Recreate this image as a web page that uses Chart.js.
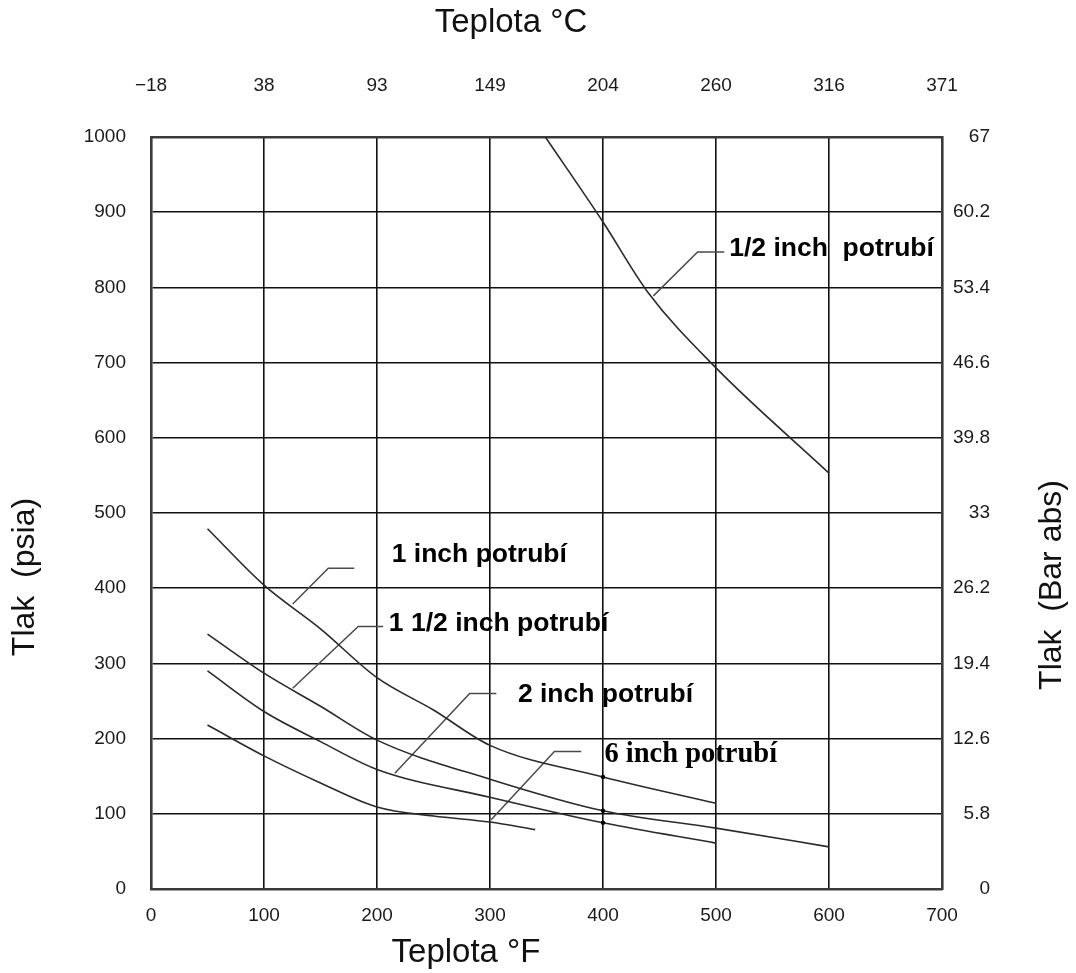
<!DOCTYPE html>
<html>
<head>
<meta charset="utf-8">
<script src="https://cdn.jsdelivr.net/npm/chart.js@4.4.1/dist/chart.umd.min.js"></script>
<style>
html,body{margin:0;padding:0;background:#fff;}
#wrap{width:1076px;height:973px;position:relative;}
canvas{display:block;}
</style>
</head>
<body>
<div id="wrap"><canvas id="c" width="1076" height="973"></canvas></div>
<script>
// ---- tick labels ----
const tempCLabels = ["\u221218", "38", "93", "149", "204", "260", "316", "371"];
const barLabels = ["0", "5.8", "12.6", "19.4", "26.2", "33", "39.8", "46.6", "53.4", "60.2", "67"];

// ---- series (x: °F, y: psia) ----
const halfInchX = [349, 400, 440, 500, 600];
const halfInchY = [1000, 887, 793, 693, 553];
const oneInchX = [50, 100, 150, 200, 250, 300, 400, 500];
const oneInchY = [479, 404, 346, 281, 238, 191, 149, 114];
const oneHalfInchX = [50, 100, 150, 200, 300, 400, 500, 600];
const oneHalfInchY = [339, 287, 243, 198, 146, 104, 81, 56];
const twoInchX = [50, 100, 150, 200, 300, 400, 500];
const twoInchY = [290, 236, 196, 159, 122, 88, 61];
const sixInchX = [50, 100, 150, 200, 250, 300, 340];
const sixInchY = [218, 177, 141, 109, 97, 89, 79];

// ---- leader lines (x: °F, y: psia) ----
const leadHalfX = [444.6, 483.7, 507.3];
const leadHalfY = [788.7, 847, 847];
const leadOneX = [125.4, 156.9, 179.9];
const leadOneY = [379, 426.5, 426.5];
const leadOneHalfX = [125.4, 183.4, 205.5];
const leadOneHalfY = [267, 349, 349];
const leadTwoX = [215.8, 282, 305.6];
const leadTwoY = [154, 260, 260];
const leadSixX = [301, 357, 380.7];
const leadSixY = [92, 183, 183];

// ---- curve labels ----
const labelTexts = ["1/2 inch  potrubí", "1 inch potrubí", "1 1/2 inch potrubí", "2 inch potrubí", "6 inch potrubí"];
const labelX = [511.7, 213, 210.5, 324.7, 401.3];
const labelY = [851.7, 444, 353.4, 258, 178.5];

function pts(xs, ys) { return xs.map((x, i) => ({x: x, y: ys[i]})); }

const CURVE = '#2a2a2a';
const LEAD = '#4a4a4a';
const curveDs = (d) => ({
  data: d, borderColor: CURVE, borderWidth: 1.6, fill: false,
  cubicInterpolationMode: 'monotone',
  pointRadius: (c) => (c.raw && c.raw.x === 400 && c.datasetIndex > 0 && c.datasetIndex < 4) ? 2.2 : 0,
  pointBackgroundColor: '#000', pointBorderWidth: 0
});
const leadDs = (d) => ({
  data: d, borderColor: LEAD, borderWidth: 1.5, fill: false, tension: 0, pointRadius: 0
});

const labelFonts = [
  'bold 26.5px "Liberation Sans", Arial, sans-serif',
  'bold 26.5px "Liberation Sans", Arial, sans-serif',
  'bold 26.5px "Liberation Sans", Arial, sans-serif',
  'bold 26.5px "Liberation Sans", Arial, sans-serif',
  'bold 28.5px "Liberation Serif", "Times New Roman", serif'
];

const annoPlugin = {
  id: 'anno',
  afterDatasetsDraw(chart) {
    const ctx = chart.ctx, sx = chart.scales.x, sy = chart.scales.y;
    ctx.save();
    ctx.fillStyle = '#000';
    ctx.textAlign = 'left';
    ctx.textBaseline = 'middle';
    labelTexts.forEach((t, i) => {
      ctx.font = labelFonts[i];
      ctx.fillText(t, sx.getPixelForValue(labelX[i]), sy.getPixelForValue(labelY[i]));
    });
    ctx.restore();
  }
};

const titlePlugin = {
  id: 'titles',
  afterDraw(chart) {
    const ctx = chart.ctx;
    ctx.save();
    ctx.fillStyle = '#111';
    ctx.textAlign = 'center';
    ctx.textBaseline = 'middle';
    ctx.font = '33px "Liberation Sans", Arial, sans-serif';
    ctx.fillText('Teplota °C', 511, 23);
    ctx.fillText('Teplota °F', 466, 953);
    ctx.font = '32px "Liberation Sans", Arial, sans-serif';
    ctx.save();
    ctx.translate(25, 577);
    ctx.rotate(-Math.PI / 2);
    ctx.fillText('Tlak  (psia)', 0, 0);
    ctx.restore();
    ctx.save();
    ctx.translate(1052, 585);
    ctx.rotate(-Math.PI / 2);
    ctx.fillText('Tlak  (Bar abs)', 0, 0);
    ctx.restore();
    ctx.restore();
  }
};

const tickFont = {family: '"Liberation Sans", Arial, sans-serif', size: 19};
const TICK = '#1a1a1a';
const GRID = {color: '#111', lineWidth: 1.6, drawTicks: false};
const BORDER = {display: true, color: '#3a3a3a', width: 2.6};
const plain = (v) => String(v);

new Chart(document.getElementById('c'), {
  type: 'line',
  data: {
    datasets: [
      curveDs(pts(halfInchX, halfInchY)),
      curveDs(pts(oneInchX, oneInchY)),
      curveDs(pts(oneHalfInchX, oneHalfInchY)),
      curveDs(pts(twoInchX, twoInchY)),
      curveDs(pts(sixInchX, sixInchY)),
      leadDs(pts(leadHalfX, leadHalfY)),
      leadDs(pts(leadOneX, leadOneY)),
      leadDs(pts(leadOneHalfX, leadOneHalfY)),
      leadDs(pts(leadTwoX, leadTwoY)),
      leadDs(pts(leadSixX, leadSixY))
    ]
  },
  options: {
    responsive: false,
    animation: false,
    devicePixelRatio: 1,
    layout: {padding: {left: 0, top: 0, bottom: 0, right: 86}},
    plugins: {legend: {display: false}, tooltip: {enabled: false}},
    scales: {
      x: {
        type: 'linear', position: 'bottom', min: 0, max: 700,
        ticks: {stepSize: 100, padding: 15, font: tickFont, color: TICK, maxRotation: 0, autoSkip: false, callback: plain},
        grid: GRID, border: BORDER,
        afterFit: (s) => { s.height = 84; }
      },
      xTop: {
        type: 'linear', position: 'top', min: 0, max: 700,
        ticks: {stepSize: 100, padding: 40, font: tickFont, color: TICK, maxRotation: 0, autoSkip: false,
          callback: (v) => tempCLabels[Math.round(v / 100)]},
        grid: {display: false, drawTicks: false}, border: BORDER,
        afterFit: (s) => { s.height = 137; }
      },
      y: {
        type: 'linear', position: 'left', min: 0, max: 1000,
        ticks: {stepSize: 100, padding: 25, font: tickFont, color: TICK, autoSkip: false, callback: plain},
        grid: GRID, border: BORDER,
        afterFit: (s) => { s.width = 151; }
      },
      yRight: {
        type: 'linear', position: 'right', min: 0, max: 1000,
        ticks: {stepSize: 100, padding: 4, font: tickFont, color: TICK, autoSkip: false, crossAlign: 'far',
          callback: (v) => barLabels[Math.round(v / 100)]},
        grid: {display: false, drawTicks: false}, border: BORDER,
        afterFit: (s) => { s.width = 48; }
      }
    }
  },
  plugins: [annoPlugin, titlePlugin]
});
</script>
</body>
</html>
